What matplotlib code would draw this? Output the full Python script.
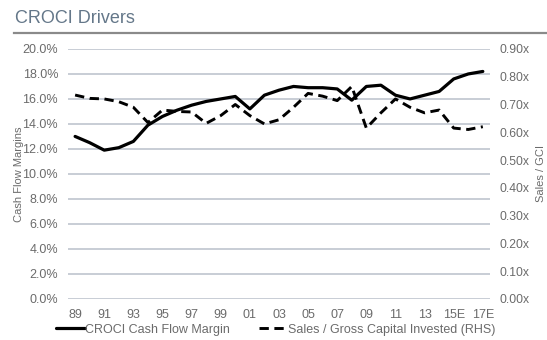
import matplotlib.pyplot as plt

plt.rcParams['font.family'] = ['Liberation Sans', 'DejaVu Sans']

# yearly data, 1989 to 2017E
years = ['89', '90', '91', '92', '93', '94', '95', '96', '97', '98',
         '99', '00', '01', '02', '03', '04', '05', '06', '07', '08',
         '09', '10', '11', '12', '13', '14', '15E', '16E', '17E']
cf_margin = [13.0, 12.5, 11.9, 12.1, 12.6, 13.9, 14.6, 15.1, 15.5, 15.8,
             16.0, 16.2, 15.2, 16.3, 16.7, 17.0, 16.9, 16.9, 16.8, 15.9,
             17.0, 17.1, 16.3, 16.0, 16.3, 16.6, 17.6, 18.0, 18.2]
sales_gci = [0.734, 0.722, 0.72, 0.71, 0.69, 0.635, 0.68, 0.675, 0.673, 0.632,
             0.66, 0.70, 0.66, 0.63, 0.645, 0.69, 0.74, 0.73, 0.714, 0.765,
             0.615, 0.67, 0.72, 0.69, 0.67, 0.68, 0.615, 0.61, 0.62]

left_ticks = [0, 2, 4, 6, 8, 10, 12, 14, 16, 18, 20]
right_ticks = [0.0, 0.1, 0.2, 0.3, 0.4, 0.5, 0.6, 0.7, 0.8, 0.9]

text_col = '#6b6b6b'
grid_col = '#b9c0ca'

fig = plt.figure(figsize=(5.47, 3.4), dpi=100)
ax = fig.add_axes([0.124, 0.121, 0.772, 0.735])
ax2 = ax.twinx()

x = list(range(len(years)))
ax.plot(x, cf_margin, color='black', lw=2.3, solid_joinstyle='round',
        solid_capstyle='round', label='CROCI Cash Flow Margin', zorder=3)
ax2.plot(x, sales_gci, color='black', lw=2.1, dashes=(3.2, 1.9),
         label='Sales / Gross Capital Invested (RHS)', zorder=3)

ax.set_xlim(-0.5, len(years) - 0.5)
ax.set_ylim(0, 20)
ax2.set_ylim(0, 0.9)

ax.set_yticks(left_ticks)
ax.set_yticklabels([f'{v:.1f}%' for v in left_ticks])
ax2.set_yticks(right_ticks)
ax2.set_yticklabels([f'{v:.2f}x' for v in right_ticks])
ax.set_xticks(x[::2])
ax.set_xticklabels(years[::2])

ax.grid(axis='y', color=grid_col, lw=1.1)
ax.set_axisbelow(True)
for a in (ax, ax2):
    for s in a.spines.values():
        s.set_visible(False)
    a.tick_params(length=0, labelsize=9, labelcolor=text_col)
ax.tick_params(axis='y', pad=7)
ax2.tick_params(axis='y', pad=7, labelsize=8.7)
ax.tick_params(axis='x', pad=7)

ax.set_ylabel('Cash Flow Margins', fontsize=8, color=text_col, labelpad=-1)
ax2.set_ylabel('Sales / GCI', fontsize=8, color=text_col, labelpad=4)

# title with rule underneath
fig.text(0.028, 0.945, 'CROCI Drivers', fontsize=13, color='#647789',
         va='center', ha='left')
fig.add_artist(plt.Line2D([0.026, 1.0], [0.903, 0.903], color='#8a8a8a', lw=1.6))

h1, l1 = ax.get_legend_handles_labels()
h2, l2 = ax2.get_legend_handles_labels()
fig.legend(h1 + h2, l1 + l2, loc='center', bbox_to_anchor=(0.504, 0.03),
           ncol=2, frameon=False, fontsize=9, handlelength=2.3,
           handletextpad=0.0, columnspacing=2.4, labelcolor=text_col)

fig.savefig('out.png', dpi=100)
